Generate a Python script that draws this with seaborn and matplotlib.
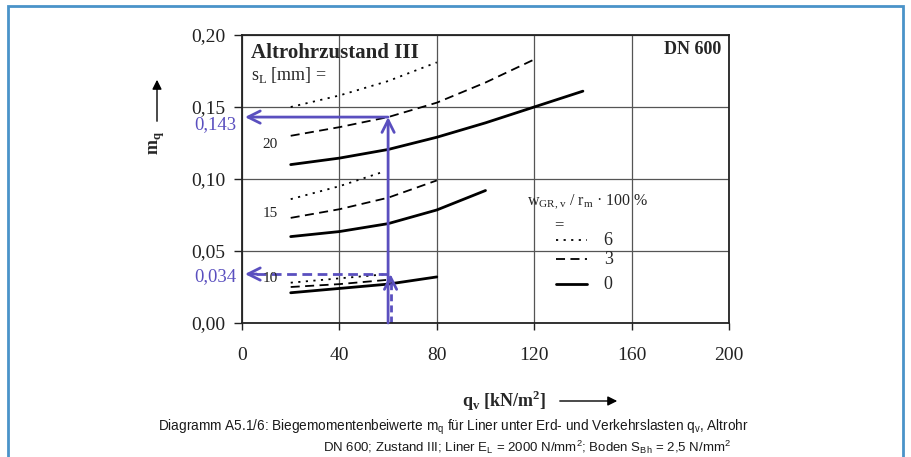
import numpy as np
import pandas as pd
import seaborn as sns
import matplotlib.pyplot as plt
from matplotlib.patches import Rectangle, FancyArrowPatch

# --- DATA ---
x_ticks = [0, 40, 80, 120, 160, 200]
x_tick_labels = ['0', '40', '80', '120', '160', '200']
y_ticks = [0.00, 0.05, 0.10, 0.15, 0.20]
y_tick_labels = ['0,00', '0,05', '0,10', '0,15', '0,20']

# s_L = 20 mm
q_20_w0 = [20, 40, 60, 80, 100, 120, 140]
m_20_w0 = [0.110, 0.1145, 0.1205, 0.129, 0.139, 0.150, 0.161]
q_20_w3 = [20, 40, 60, 80, 100, 120]
m_20_w3 = [0.130, 0.136, 0.143, 0.153, 0.167, 0.183]
q_20_w6 = [20, 40, 60, 80]
m_20_w6 = [0.150, 0.158, 0.168, 0.181]

# s_L = 15 mm
q_15_w0 = [20, 40, 60, 80, 100]
m_15_w0 = [0.060, 0.0635, 0.069, 0.0785, 0.092]
q_15_w3 = [20, 40, 60, 80]
m_15_w3 = [0.073, 0.079, 0.087, 0.099]
q_15_w6 = [20, 40, 58]
m_15_w6 = [0.086, 0.095, 0.105]

# s_L = 10 mm
q_10_w0 = [20, 40, 60, 80]
m_10_w0 = [0.021, 0.024, 0.027, 0.032]
q_10_w3 = [20, 40, 60]
m_10_w3 = [0.025, 0.027, 0.030]
q_10_w6 = [20, 40, 60]
m_10_w6 = [0.028, 0.031, 0.034]

# reading example (blue)
ref_q = 60
ref_m_20 = 0.143
ref_m_10 = 0.034
ref_labels = ['0,143', '0,034']

curves = [
    ('20', 0, q_20_w0, m_20_w0), ('20', 3, q_20_w3, m_20_w3), ('20', 6, q_20_w6, m_20_w6),
    ('15', 0, q_15_w0, m_15_w0), ('15', 3, q_15_w3, m_15_w3), ('15', 6, q_15_w6, m_15_w6),
    ('10', 0, q_10_w0, m_10_w0), ('10', 3, q_10_w3, m_10_w3), ('10', 6, q_10_w6, m_10_w6),
]
df = pd.concat([pd.DataFrame({'q': q, 'm': m, 'sL': s, 'w': w}) for s, w, q, m in curves])

# --- STYLE ---
BLUE = '#5a4fbf'
line_style = {0: dict(linestyle='-', lw=2.0),
              3: dict(linestyle=(0, (5, 3)), lw=1.3),
              6: dict(linestyle=(0, (1.2, 3.0)), lw=1.3)}

sns.set_theme(style='white')
plt.rcParams['font.family'] = ['Liberation Serif', 'DejaVu Serif']

fig = plt.figure(figsize=(9.12, 4.57), dpi=100)
ax = fig.add_axes([242 / 912, 1 - 323 / 457, (729 - 242) / 912, (323 - 35) / 457])

for (s, w), sub in df.groupby(['sL', 'w']):
    sns.lineplot(data=sub, x='q', y='m', ax=ax, color='black', estimator=None,
                 legend=False, **line_style[w])

ax.set_xlim(0, 200)
ax.set_ylim(0, 0.2)
ax.set_xticks(x_ticks)
ax.set_xticklabels(x_tick_labels)
ax.set_yticks(y_ticks)
ax.set_yticklabels(y_tick_labels)
ax.set_xlabel('')
ax.set_ylabel('')
ax.grid(True, color='#555555', lw=0.9)
ax.tick_params(axis='x', direction='out', length=5, width=1, labelsize=14, pad=12,
               bottom=True, colors='#222222')
ax.tick_params(axis='y', direction='out', length=6, width=1, labelsize=14, pad=6,
               left=True, colors='#222222')
for sp in ax.spines.values():
    sp.set_color('#222222')
    sp.set_linewidth(1.3)

# curve labels
for s, ypos in zip(['20', '15', '10'], [0.124, 0.076, 0.031]):
    ax.text(11.5, ypos, s, fontsize=11, ha='center', va='center', color='#222222')

# titles inside
ax.text(3.5, 0.1875, 'Altrohrzustand III', fontsize=15, fontweight='bold', va='center')
ax.text(3.5, 0.172, r's$_\mathregular{L}$ [mm] =', fontsize=13, va='center')
ax.text(197, 0.19, 'DN 600', fontsize=13, fontweight='bold', ha='right', va='center')

# legend
ax.text(117, 0.084, r'w$_\mathregular{GR,v}$ / r$_\mathregular{m}$ · 100 %', fontsize=11.5, va='center')
ax.text(130, 0.068, '=', fontsize=12, ha='center', va='center')
for w, ypos in zip([6, 3, 0], [0.288, 0.222, 0.135]):
    ax.plot([0.645, 0.708], [ypos, ypos], transform=ax.transAxes, color='black', **line_style[w])
    ax.text(0.752, ypos, str(w), transform=ax.transAxes, fontsize=13, ha='center', va='center')

# blue reading example
arrow = dict(arrowstyle='->', color=BLUE, lw=2.0, mutation_scale=22, shrinkA=0, shrinkB=0)
ax.annotate('', xy=(ref_q, ref_m_20), xytext=(ref_q, 0), arrowprops=arrow)
ax.annotate('', xy=(1.2, ref_m_20), xytext=(ref_q, ref_m_20), arrowprops=arrow)
ax.plot([ref_q + 1, ref_q + 1], [0, ref_m_10 - 0.004], color=BLUE, lw=2.0, linestyle=(0, (2.5, 1.5)))
ax.plot([ref_q, 4], [ref_m_10, ref_m_10], color=BLUE, lw=2.0, linestyle=(0, (3.5, 2)))
ax.annotate('', xy=(ref_q + 1, ref_m_10), xytext=(ref_q + 1, ref_m_10 - 0.005), arrowprops=arrow)
ax.annotate('', xy=(1.2, ref_m_10), xytext=(6, ref_m_10), arrowprops=arrow)
ax.text(-2.2, 0.1375, ref_labels[0], fontsize=13.5, color=BLUE, ha='right', va='center')
ax.text(-2.2, 0.032, ref_labels[1], fontsize=13.5, color=BLUE, ha='right', va='center')

# axis titles with arrows (figure pixels)
fig.text(157 / 912, 1 - 143 / 457, r'm$_\mathregular{q}$', rotation=90, fontsize=13,
         fontweight='bold', ha='center', va='center')
fig.add_artist(FancyArrowPatch(
    (157 / 912, 1 - 124 / 457), (157 / 912, 1 - 77 / 457), transform=fig.transFigure,
    arrowstyle='-|>', mutation_scale=14, color='black', lw=1.0))
fig.text(504 / 912, 1 - 401 / 457, r'q$_\mathregular{v}$ [kN/m$^\mathregular{2}$]', fontsize=13,
         fontweight='bold', ha='center', va='center')
fig.add_artist(FancyArrowPatch(
    (557 / 912, 1 - 401 / 457), (620 / 912, 1 - 401 / 457), transform=fig.transFigure,
    arrowstyle='-|>', mutation_scale=14, color='black', lw=1.0))

# caption
cap_font = ['Liberation Sans', 'DejaVu Sans']
fig.text(453 / 912, 1 - 427 / 457,
         r'Diagramm A5.1/6: Biegemomentenbeiwerte m$_\mathregular{q}$ für Liner unter Erd- und '
         r'Verkehrslasten q$_\mathregular{v}$, Altrohr',
         fontsize=9.8, family=cap_font, ha='center', va='center', color='#1a1a1a')
fig.text(527 / 912, 1 - 447 / 457,
         r'DN 600; Zustand III; Liner E$_\mathregular{L}$ = 2000 N/mm$^\mathregular{2}$; '
         r'Boden S$_\mathregular{Bh}$ = 2,5 N/mm$^\mathregular{2}$',
         fontsize=9.5, family=cap_font, ha='center', va='center', color='#1a1a1a')

# outer blue frame (bottom edge outside the picture)
fig.add_artist(Rectangle((8 / 912, -0.05), (903 - 8) / 912, 1.05 - 6 / 457,
                         transform=fig.transFigure, fill=False, edgecolor='#4a93c9', lw=2.0))

fig.savefig('out.png', dpi=100)
